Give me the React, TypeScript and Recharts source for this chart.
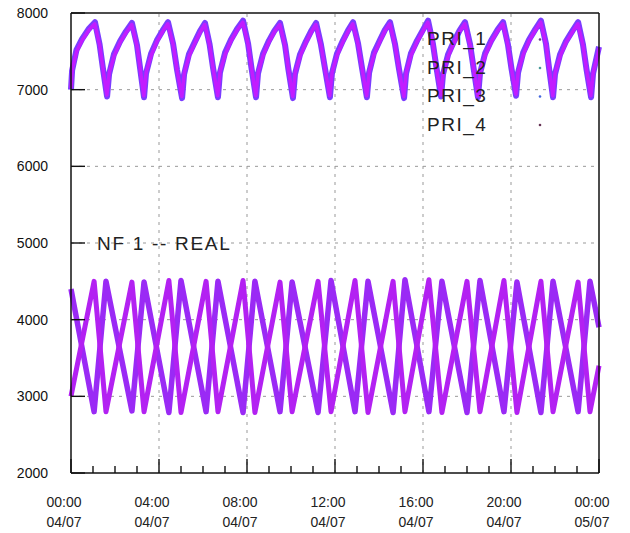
import { LineChart, Line, XAxis, YAxis, ReferenceLine } from "recharts";

// hours since 00:00 04/07
const HOUR_TICKS = [0, 1, 2, 3, 4, 5, 6, 7, 8, 9, 10, 11, 12, 13, 14, 15, 16, 17, 18, 19, 20, 21, 22, 23, 24];
const LABEL_HOURS = [0, 4, 8, 12, 16, 20, 24];
const TIME_LABELS = ["00:00", "04:00", "08:00", "12:00", "16:00", "20:00", "00:00"];
const DATE_LABELS = ["04/07", "04/07", "04/07", "04/07", "04/07", "04/07", "05/07"];
const GRID_HOURS = [4, 8, 12, 16, 20];
const VALUE_TICKS = [2000, 3000, 4000, 5000, 6000, 7000, 8000];
const GRID_VALUES = [3000, 4000, 5000, 6000, 7000];
const SERIES_NAMES = ["PRI_1", "PRI_2", "PRI_3", "PRI_4"];
const SERIES_COLORS = ["#7b3cff", "#c21cff", "#9a2af5", "#b321f2"];
const LEGEND_DOTS = ["#6a3d8a", "#4a9a9a", "#4466dd", "#663355"];

const PRI_1: [number, number][] = [
  [0, 7000], [0.05, 7250], [0.25, 7520], [0.5, 7660], [0.8, 7790], [1.09, 7880], [1.3, 7590], [1.45, 7280], [1.64, 6910],
  [1.73, 7200], [1.95, 7460], [2.23, 7630], [2.5, 7760], [2.77, 7870], [3.0, 7580], [3.14, 7280], [3.32, 6900],
  [3.41, 7210], [3.64, 7470], [3.9, 7640], [4.16, 7770], [4.41, 7880], [4.64, 7600], [4.82, 7260], [5.05, 6890],
  [5.14, 7200], [5.36, 7460], [5.64, 7630], [5.86, 7760], [6.09, 7870], [6.3, 7590], [6.46, 7280], [6.68, 6900],
  [6.77, 7220], [7.0, 7480], [7.27, 7650], [7.55, 7790], [7.82, 7900], [8.05, 7600], [8.2, 7290], [8.41, 6900],
  [8.5, 7210], [8.73, 7470], [9.0, 7640], [9.25, 7770], [9.5, 7870], [9.73, 7580], [9.88, 7270], [10.09, 6890],
  [10.18, 7200], [10.41, 7460], [10.68, 7630], [10.91, 7760], [11.14, 7870], [11.36, 7590], [11.55, 7270], [11.77, 6900],
  [11.86, 7210], [12.09, 7470], [12.36, 7640], [12.59, 7770], [12.82, 7880], [13.05, 7600], [13.23, 7280], [13.45, 6900],
  [13.55, 7220], [13.77, 7480], [14.05, 7650], [14.27, 7780], [14.5, 7880], [14.73, 7590], [14.91, 7270], [15.14, 6890],
  [15.23, 7210], [15.45, 7470], [15.73, 7640], [16.0, 7780], [16.23, 7900], [16.45, 7600], [16.61, 7290], [16.82, 6910],
  [16.91, 7200], [17.14, 7460], [17.41, 7630], [17.66, 7770], [17.91, 7880], [18.14, 7590], [18.3, 7280], [18.5, 6900],
  [18.59, 7210], [18.82, 7470], [19.1, 7640], [19.39, 7780], [19.64, 7880], [19.86, 7590], [20.02, 7280], [20.23, 6920],
  [20.32, 7220], [20.55, 7480], [20.82, 7650], [21.11, 7790], [21.36, 7900], [21.59, 7600], [21.73, 7280], [21.91, 6900],
  [22.0, 7200], [22.23, 7460], [22.5, 7630], [22.8, 7770], [23.05, 7880], [23.27, 7590], [23.43, 7270], [23.64, 6900],
  [23.73, 7210], [23.9, 7430], [24, 7560],
];

const PRI_2: [number, number][] = [
  [0, 7020], [0.06, 7270], [0.26, 7500], [0.52, 7650], [0.82, 7780], [1.08, 7860], [1.31, 7570], [1.46, 7260], [1.63, 6930],
  [1.74, 7220], [1.96, 7440], [2.24, 7620], [2.52, 7750], [2.76, 7850], [3.01, 7560], [3.15, 7260], [3.31, 6920],
  [3.42, 7230], [3.65, 7450], [3.91, 7630], [4.17, 7760], [4.4, 7860], [4.65, 7580], [4.83, 7240], [5.04, 6910],
  [5.15, 7220], [5.37, 7440], [5.65, 7620], [5.87, 7750], [6.08, 7850], [6.31, 7570], [6.47, 7260], [6.67, 6920],
  [6.78, 7240], [7.01, 7460], [7.28, 7640], [7.56, 7780], [7.81, 7880], [8.06, 7580], [8.21, 7270], [8.4, 6920],
  [8.51, 7230], [8.74, 7450], [9.01, 7630], [9.26, 7760], [9.49, 7850], [9.74, 7560], [9.89, 7250], [10.08, 6910],
  [10.19, 7220], [10.42, 7440], [10.69, 7620], [10.92, 7750], [11.13, 7850], [11.37, 7570], [11.56, 7250], [11.76, 6920],
  [11.87, 7230], [12.1, 7450], [12.37, 7630], [12.6, 7760], [12.81, 7860], [13.06, 7580], [13.24, 7260], [13.44, 6920],
  [13.56, 7240], [13.78, 7460], [14.06, 7640], [14.28, 7770], [14.49, 7860], [14.74, 7570], [14.92, 7250], [15.13, 6910],
  [15.24, 7230], [15.46, 7450], [15.74, 7630], [16.01, 7770], [16.22, 7880], [16.46, 7580], [16.62, 7270], [16.81, 6930],
  [16.92, 7220], [17.15, 7440], [17.42, 7620], [17.67, 7760], [17.9, 7860], [18.15, 7570], [18.31, 7260], [18.49, 6920],
  [18.6, 7230], [18.83, 7450], [19.11, 7630], [19.4, 7770], [19.63, 7860], [19.87, 7570], [20.03, 7260], [20.22, 6940],
  [20.33, 7240], [20.56, 7460], [20.83, 7640], [21.12, 7780], [21.35, 7880], [21.6, 7580], [21.74, 7260], [21.9, 6920],
  [22.01, 7220], [22.24, 7440], [22.51, 7620], [22.81, 7760], [23.04, 7860], [23.28, 7570], [23.44, 7250], [23.63, 6920],
  [23.74, 7230], [23.91, 7410], [24, 7540],
];

const PRI_3: [number, number][] = [
  [0, 4400], [1.05, 2800], [1.59, 4500], [2.77, 2810], [3.32, 4490], [4.45, 2790], [5.0, 4510], [6.14, 2800],
  [6.68, 4500], [7.82, 2790], [8.36, 4500], [9.5, 2800], [10.05, 4490], [11.23, 2790], [11.82, 4510], [12.91, 2800],
  [13.5, 4500], [14.64, 2790], [15.18, 4520], [16.27, 2800], [16.86, 4500], [18.0, 2790], [18.59, 4510], [19.68, 2800],
  [20.27, 4490], [21.36, 2790], [21.91, 4500], [23.05, 2800], [23.59, 4500], [24, 3900],
];

const PRI_4: [number, number][] = [
  [0, 3000], [1.05, 4500], [1.59, 2800], [2.77, 4490], [3.32, 2800], [4.45, 4510], [5.0, 2790], [6.14, 4500],
  [6.68, 2800], [7.82, 4510], [8.36, 2790], [9.5, 4490], [10.05, 2800], [11.23, 4500], [11.82, 2800], [12.91, 4510],
  [13.5, 2790], [14.64, 4500], [15.18, 2800], [16.27, 4520], [16.86, 2790], [18.0, 4500], [18.59, 2800], [19.68, 4510],
  [20.27, 2790], [21.36, 4500], [21.91, 2800], [23.05, 4490], [23.59, 2800], [24, 3400],
];

const SERIES = [PRI_1, PRI_2, PRI_3, PRI_4];
const WIDTHS = [6, 3.5, 5.5, 5];

const FONT = "Liberation Sans, Arial, sans-serif";
const INK = "#111";

function BottomTick(props: any) {
  const { x, y, payload } = props;
  const h = payload.value;
  const len = h % 4 === 0 ? 14 : 7;
  const i = LABEL_HOURS.indexOf(h);
  return (
    <g>
      <line x1={x} y1={y} x2={x} y2={y - len} stroke={INK} strokeWidth={1.4} />
      {i >= 0 && (
        <text x={x - 7} y={y + 34} textAnchor="middle" fontSize={14} fontFamily={FONT} fill="#222">
          <tspan x={x - 7}>{TIME_LABELS[i]}</tspan>
          <tspan x={x - 7} dy={20}>{DATE_LABELS[i]}</tspan>
        </text>
      )}
    </g>
  );
}

function TopTick(props: any) {
  const { x, y, payload } = props;
  const len = payload.value % 4 === 0 ? 14 : 7;
  return <line x1={x} y1={y} x2={x} y2={y + len} stroke={INK} strokeWidth={1.4} />;
}

function LeftTick(props: any) {
  const { x, y, payload } = props;
  return (
    <g>
      <line x1={x} y1={y} x2={x + 14} y2={y} stroke={INK} strokeWidth={1.4} />
      <text x={x - 23} y={y + 5} textAnchor="end" fontSize={14} fontFamily={FONT} fill={INK}>
        {payload.value}
      </text>
    </g>
  );
}

function RightTick(props: any) {
  const { x, y } = props;
  return <line x1={x} y1={y} x2={x - 14} y2={y} stroke={INK} strokeWidth={1.4} />;
}

export default function App() {
  const rows = SERIES.map((s) => s.map(([t, v]) => ({ t, v })));
  const border = { stroke: INK, strokeWidth: 1.5 };
  return (
    <div style={{ position: "absolute", left: 0, top: 0, width: 630, height: 533, background: "#fff" }}>
      <LineChart width={630} height={533} margin={{ top: 12, right: 30, bottom: 0, left: 0 }}>
        <XAxis xAxisId="b" dataKey="t" type="number" domain={[0, 24]} ticks={HOUR_TICKS}
          interval={0} height={60} tickSize={0} tickMargin={0} tickLine={false}
          axisLine={border} tick={(p: any) => <BottomTick {...p} />} />
        <XAxis xAxisId="t" orientation="top" dataKey="t" type="number" domain={[0, 24]}
          ticks={HOUR_TICKS} interval={0} height={1} tickSize={0} tickMargin={0} tickLine={false}
          axisLine={border} tick={(p: any) => <TopTick {...p} />} />
        <YAxis yAxisId="l" type="number" domain={[2000, 8000]} ticks={VALUE_TICKS} interval={0}
          width={71} tickSize={0} tickMargin={0} tickLine={false}
          axisLine={border} tick={(p: any) => <LeftTick {...p} />} />
        <YAxis yAxisId="r" orientation="right" type="number" domain={[2000, 8000]}
          ticks={VALUE_TICKS} interval={0} width={1} tickSize={0} tickMargin={0} tickLine={false}
          axisLine={border} tick={(p: any) => <RightTick {...p} />} />
        {GRID_VALUES.map((v) => (
          <ReferenceLine key={"gy" + v} xAxisId="b" yAxisId="l" y={v} stroke="#999" strokeDasharray="3 5" />
        ))}
        {GRID_HOURS.map((h) => (
          <ReferenceLine key={"gx" + h} xAxisId="b" yAxisId="l" x={h} stroke="#999" strokeDasharray="3 5" />
        ))}
        {rows.map((data, i) => (
          <Line key={SERIES_NAMES[i]} name={SERIES_NAMES[i]} xAxisId="b" yAxisId="l" data={data} dataKey="v"
            type="linear" stroke={SERIES_COLORS[i]} strokeWidth={WIDTHS[i]} strokeLinejoin="round"
            dot={false} activeDot={false} isAnimationActive={false} />
        ))}
      </LineChart>
      <svg width={630} height={533} style={{ position: "absolute", left: 0, top: 0, pointerEvents: "none" }}>
        {SERIES_NAMES.map((n, i) => (
          <g key={n}>
            <text x={427} y={45 + i * 28.7} fontSize={19} letterSpacing={1.5} fontFamily={FONT} fill="#222">
              {n}
            </text>
            <circle cx={540} cy={39.5 + i * 28.5} r={1.3} fill={LEGEND_DOTS[i]} />
          </g>
        ))}
        <text x={97} y={249.5} fontSize={19} letterSpacing={1.7} fontFamily={FONT} fill="#222">
          NF 1 -- REAL
        </text>
      </svg>
    </div>
  );
}
